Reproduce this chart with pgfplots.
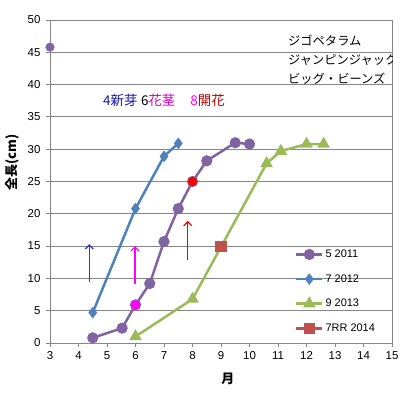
\documentclass[border=0pt]{standalone}
\usepackage{fontspec}
\setmainfont{Liberation Sans}
\newfontfamily\jp{Noto Sans CJK JP}
\usepackage{pgfplots}
\pgfplotsset{compat=1.18}
\usetikzlibrary{arrows.meta}
\definecolor{cpurple}{HTML}{8064A2}
\definecolor{cblue}{HTML}{4F81BD}
\definecolor{cgreen}{HTML}{9BBB59}
\definecolor{cred}{HTML}{C0504D}
\definecolor{gridgray}{HTML}{868686}
\definecolor{arrblue}{HTML}{3030F0}
\definecolor{arrmag}{HTML}{FF00FF}
\definecolor{arrred}{HTML}{F00000}
\definecolor{txtblue}{HTML}{1414A8}
\definecolor{txtmag}{HTML}{CC00CC}
\definecolor{txtmag2}{HTML}{FF00FF}
\definecolor{txtred}{HTML}{C00000}
\definecolor{ptmag}{HTML}{FF00FF}
\definecolor{ptred}{HTML}{FF0000}
\begin{document}
\begin{tikzpicture}
\path[use as bounding box] (0,0) rectangle (412bp,395bp);
\begin{axis}[
  at={(50bp,52bp)}, anchor=south west,
  scale only axis, width=342bp, height=323bp,
  xmin=3, xmax=15, ymin=0, ymax=50,
  xtick={3,4,...,15}, ytick={0,5,...,50},
  ymajorgrids,
  grid style={draw=gridgray, line width=0.8bp},
  axis line style={draw=gridgray, line width=0.8bp},
  tick style={draw=gridgray, line width=0.8bp},
  tick align=outside, major tick length=4bp,
  xtick pos=bottom, ytick pos=left,
  ticklabel style={font=\fontsize{11.5}{13}\selectfont},
  yticklabel style={xshift=-2bp},
  xticklabel style={yshift=-1bp},
  /pgf/number format/assume math mode=true,
  xlabel={\jp\bfseries 月},
  xlabel style={at={(axis description cs:0.52,0)}, anchor=center, yshift=-36bp, font=\fontsize{13}{15}\selectfont},
  ylabel={\jp\bfseries 全長(cm)},
  ylabel style={at={(axis description cs:0,0.56)}, anchor=center, yshift=37.5bp, font=\fontsize{13}{15}\selectfont},
  legend style={at={(axis description cs:0.716,0.295)}, anchor=north west, draw=none, fill=none,
    font=\fontsize{11}{13}\selectfont, row sep=11.5bp, inner sep=0pt},
  legend cell align=left,
  legend image code/.code={\draw[mark repeat=2,mark phase=2] plot coordinates {(0bp,0bp) (13bp,0bp) (26bp,0bp)};},
]
% 5 2011
\addplot[cpurple, line width=2.5bp, mark=*, mark size=4.3bp, mark options={solid, fill=cpurple, draw=cpurple}]
  coordinates {(4.5,0.8) (5.53,2.3) (6,5.9) (6.5,9.2) (7,15.7) (7.5,20.8) (8,25) (8.5,28.2) (9.5,31) (10,30.8)};
\addlegendentry{5 2011}
% 7 2012
\addplot[cblue, line width=2.5bp, mark=diamond*, mark size=3.8bp, mark options={solid, fill=cblue, draw=cblue}]
  coordinates {(4.5,4.7) (6,20.8) (7,28.9) (7.5,30.9)};
\addlegendentry{7 2012}
% 9 2013
\addplot[cgreen, line width=2.5bp, mark=triangle*, mark size=4.8bp, mark options={solid, fill=cgreen, draw=cgreen}]
  coordinates {(6,1.0) (8,6.8) (10.6,27.8) (11.1,29.7) (12,30.8) (12.6,30.8)};
\addlegendentry{9 2013}
% 7RR 2014
\addplot[cred, line width=2.5bp, mark=square*, mark size=4.3bp, mark options={solid, fill=cred, draw=cred}]
  coordinates {(9,15)};
\addlegendentry{7RR 2014}
% extra points
\addplot[forget plot, only marks, mark=*, mark size=4.3bp, mark options={fill=cpurple, draw=cpurple}] coordinates {(3,45.8)};
\addplot[forget plot, only marks, mark=*, mark size=4.5bp, mark options={fill=ptmag, draw=ptmag}] coordinates {(6,5.9)};
\addplot[forget plot, only marks, mark=*, mark size=4.5bp, mark options={fill=ptred, draw=ptred}] coordinates {(8,25)};
% arrows
\draw[draw=arrblue, line width=1.2bp, -{Straight Barb[length=4bp,width=8bp]}] (axis cs:4.38,9.5) -- (axis cs:4.38,15.3);
\draw[draw=arrmag, line width=1.2bp, -{Straight Barb[length=4bp,width=8bp]}] (axis cs:5.98,9.2) -- (axis cs:5.98,15.0);
\draw[draw=arrred, line width=1.2bp, -{Straight Barb[length=4bp,width=8bp]}] (axis cs:7.83,12.9) -- (axis cs:7.83,18.9);
% annotations
\node[anchor=west, inner sep=0pt, font=\jp\fontsize{13.5}{15}\selectfont] at (axis cs:4.86,37.6)
  {{\color{txtblue}4新芽}\hspace{3.5bp}6{\color{txtmag}花茎}\hspace{15bp}{\color{txtmag2}8}{\color{txtred}開花}};
\node[anchor=north west, inner sep=0pt, align=left, font=\jp\fontsize{12.3}{19}\selectfont] at (rel axis cs:0.696,0.953)
  {ジゴペタラム\\ジャンピンジャック\\ビッグ・ビーンズ};
\end{axis}
\end{tikzpicture}
\end{document}
